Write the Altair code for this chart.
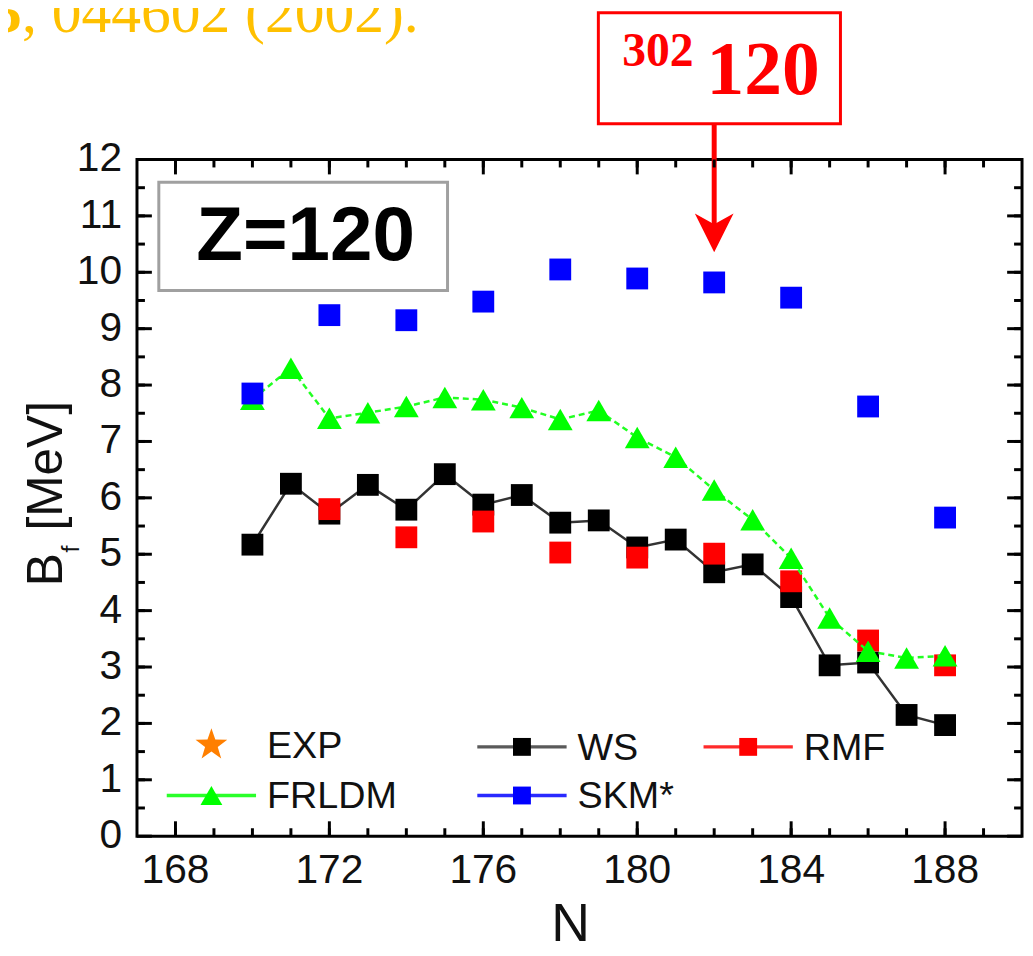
import math
import altair as alt
import pandas as pd

# ---------------- data ----------------
N_ws = [170, 171, 172, 173, 174, 175, 176, 177, 178, 179, 180, 181, 182, 183, 184, 185, 186, 187, 188]
B_ws = [5.17, 6.25, 5.72, 6.23, 5.79, 6.42, 5.88, 6.05, 5.56, 5.60, 5.12, 5.26, 4.68, 4.82, 4.24, 3.03, 3.08, 2.15, 1.97]

N_rmf = [172, 174, 176, 178, 180, 182, 184, 186, 188]
B_rmf = [5.80, 5.30, 5.58, 5.03, 4.94, 5.01, 4.52, 3.47, 3.03]

N_frldm = [170, 171, 172, 173, 174, 175, 176, 177, 178, 179, 180, 181, 182, 183, 184, 185, 186, 187, 188]
B_frldm = [7.75, 8.30, 7.41, 7.51, 7.62, 7.78, 7.74, 7.60, 7.39, 7.55, 7.07, 6.72, 6.14, 5.61, 4.93, 3.87, 3.28, 3.16, 3.20]

N_skm = [170, 172, 174, 176, 178, 180, 182, 184, 186, 188]
B_skm = [7.85, 9.24, 9.15, 9.48, 10.05, 9.89, 9.82, 9.55, 7.62, 5.65]

X_DOMAIN = [167, 190]
Y_DOMAIN = [0, 12]
X_MAJOR = [168, 172, 176, 180, 184, 188]
X_MINOR = list(range(168, 190))
Y_MAJOR = list(range(0, 13))
Y_MINOR = [i / 2 for i in range(1, 24)]

ARROW_N = 182

LEG_NAMES = ["EXP", "WS", "RMF", "FRLDM", "SKM*"]
LEG_MARKER_COLORS = ["#FF7F00", "#000000", "#FF0000", "#00FF00", "#0000FF"]
LEG_LINE_COLORS = ["#FFFFFF", "#5a5a5a", "#FF2a2a", "#2aFF2a", "#2a2aFF"]
LEG_HAS_LINE = [False, True, True, True, True]

# ---------------- layout / style ----------------
W, H = 892, 682
FONT = "Liberation Sans"
SERIF = "Liberation Serif"
MAJ, MIN, TW = 15, 8, 3  # tick lengths / width in pixels (inward ticks)

LEG_X = [75, 388, 616, 75, 388]
LEG_Y = [590, 592, 592, 641, 641]
LEG_SIZE = [1130, 324, 324, 484, 324]


def star_path(r_in=0.4):
    pts = []
    for i in range(10):
        r = 1.0 if i % 2 == 0 else r_in
        a = math.radians(-90 + 36 * i)
        pts.append(f"{r * math.cos(a):.3f},{r * math.sin(a):.3f}")
    return "M" + "L".join(pts) + "Z"


def vbar(length):
    w = TW / length  # half width in unit coords (unit half-length = length/2 px)
    return f"M{-w:.3f},-1L{w:.3f},-1L{w:.3f},1L{-w:.3f},1Z"


def hbar(length):
    w = TW / length
    return f"M-1,{-w:.3f}L1,{-w:.3f}L1,{w:.3f}L-1,{w:.3f}Z"


STAR = star_path()
ARROWHEAD = "M0,1L-1,-1L0,-0.45L1,-1Z"
LEG_SHAPES = [STAR, "square", "square", "triangle-up", "square"]

ws = pd.DataFrame({"N": N_ws, "B": B_ws})
rmf = pd.DataFrame({"N": N_rmf, "B": B_rmf})
frldm = pd.DataFrame({"N": N_frldm, "B": B_frldm})
skm = pd.DataFrame({"N": N_skm, "B": B_skm})
one = pd.DataFrame({"k": [0]})

leg = pd.DataFrame({
    "name": LEG_NAMES,
    "mc": LEG_MARKER_COLORS,
    "lc": LEG_LINE_COLORS,
    "shape": LEG_SHAPES,
    "msize": LEG_SIZE,
    "lx": LEG_X,
    "ly": LEG_Y,
})
leg["x1"] = leg["lx"] - 45
leg["x2"] = leg["lx"] + 45
leg["tx"] = leg["lx"] + 56
leg["ty"] = leg["ly"] + 2
leg_lines = leg[LEG_HAS_LINE]

xs = alt.Scale(domain=X_DOMAIN, nice=False, zero=False)
ys = alt.Scale(domain=Y_DOMAIN, nice=False, zero=False)


def X():
    return alt.X("N:Q", scale=xs, axis=None)


def Y():
    return alt.Y("B:Q", scale=ys, axis=None)


# ---------------- inward ticks on all four sides (bar-shaped point marks) ----------------
ticks = []
for vals, ln, top in [(X_MAJOR, MAJ, False), (X_MINOR, MIN, False),
                      (X_MAJOR, MAJ, True), (X_MINOR, MIN, True)]:
    ypos = ln / 2 if top else H - ln / 2
    ticks.append(
        alt.Chart(pd.DataFrame({"N": vals})).mark_point(
            shape=vbar(ln), size=ln * ln, filled=True, color="#000000", opacity=1,
            strokeWidth=0).encode(x=X(), y=alt.value(ypos)))
for vals, ln, right in [(Y_MAJOR, MAJ, False), (Y_MINOR, MIN, False),
                        (Y_MAJOR, MAJ, True), (Y_MINOR, MIN, True)]:
    xpos = W - ln / 2 if right else ln / 2
    ticks.append(
        alt.Chart(pd.DataFrame({"B": vals})).mark_point(
            shape=hbar(ln), size=ln * ln, filled=True, color="#000000", opacity=1,
            strokeWidth=0).encode(y=Y(), x=alt.value(xpos)))

# ---------------- tick labels and axis title ----------------
xlabels = alt.Chart(pd.DataFrame({"N": X_MAJOR})).mark_text(
    font=FONT, fontSize=41, color="#111111", align="center", baseline="top").encode(
    x=X(), y=alt.value(H + 15), text=alt.Text("N:Q", format="d"))
ylabels = alt.Chart(pd.DataFrame({"B": Y_MAJOR})).mark_text(
    font=FONT, fontSize=41, color="#111111", align="right", baseline="middle").encode(
    y=Y(), x=alt.value(-15), text=alt.Text("B:Q", format="d"))
xtitle = alt.Chart(one).mark_text(text="N", font=FONT, fontSize=54, color="#111111",
                                  align="center", baseline="alphabetic").encode(
    x=alt.value(437), y=alt.value(788))

# ---------------- series ----------------
ws_line = alt.Chart(ws).mark_line(color="#333333", strokeWidth=2.5).encode(x=X(), y=Y())
ws_pts = alt.Chart(ws).mark_point(shape="square", filled=True, color="#000000", size=484,
                                  opacity=1).encode(x=X(), y=Y())
rmf_pts = alt.Chart(rmf).mark_point(shape="square", filled=True, color="#FF0000", size=484,
                                    opacity=1).encode(x=X(), y=Y())
fr_line = alt.Chart(frldm).mark_line(color="#22FF22", strokeWidth=2.5, strokeDash=[6, 4]).encode(
    x=X(), y=Y())
fr_pts = alt.Chart(frldm).mark_point(shape="triangle-up", filled=True, color="#00FF00", size=625,
                                     opacity=1).encode(x=X(), y=Y())
skm_pts = alt.Chart(skm).mark_point(shape="square", filled=True, color="#0000FF", size=484,
                                    opacity=1).encode(x=X(), y=Y())

# ---------------- annotations ----------------
zbox = alt.Chart(one).mark_rect(fill="white", stroke="#A0A0A0", strokeWidth=3).encode(
    x=alt.value(22), x2=alt.value(313), y=alt.value(23), y2=alt.value(132))
ztext = alt.Chart(one).mark_text(text="Z=120", font=FONT, fontSize=77, fontWeight="bold",
                                 color="#000000", align="center", baseline="alphabetic").encode(
    x=alt.value(170), y=alt.value(101))

rbox = alt.Chart(one).mark_rect(fill="white", stroke="#FF0000", strokeWidth=3).encode(
    x=alt.value(465), x2=alt.value(709), y=alt.value(-148), y2=alt.value(-36))
t302 = alt.Chart(one).mark_text(text="302", font=SERIF, fontSize=48, fontWeight="bold",
                                color="#FF0000", align="left", baseline="alphabetic").encode(
    x=alt.value(489), y=alt.value(-94))
t120 = alt.Chart(one).mark_text(text="120", font=SERIF, fontSize=76, fontWeight="bold",
                                color="#FF0000", align="left", baseline="alphabetic").encode(
    x=alt.value(574), y=alt.value(-66))
arrow = alt.Chart(one).mark_rule(color="#FF0000", strokeWidth=5).encode(
    x=alt.XDatum(ARROW_N, scale=xs, axis=None), y=alt.value(-36), y2=alt.value(78))
arrowhead = alt.Chart(one).mark_point(shape=ARROWHEAD, filled=True, color="#FF0000", size=1521,
                                      opacity=1).encode(
    x=alt.XDatum(ARROW_N, scale=xs, axis=None), y=alt.value(74))

ref1 = alt.Chart(one).mark_text(text="5", font=SERIF, fontSize=60, fontWeight="bold",
                                color="#FFC000", align="left", baseline="alphabetic").encode(
    x=alt.value(-146), y=alt.value(-129))
ref2 = alt.Chart(one).mark_text(text=", 044602 (2002).", font=SERIF, fontSize=60,
                                color="#FFC000", align="left", baseline="alphabetic").encode(
    x=alt.value(-116), y=alt.value(-129))

yt_b = alt.Chart(one).mark_text(text="B", font=FONT, fontSize=50, color="#111111", angle=270,
                                align="left", baseline="alphabetic").encode(
    x=alt.value(-76), y=alt.value(430))
yt_f = alt.Chart(one).mark_text(text="f", font=FONT, fontSize=25, color="#111111", angle=270,
                                align="left", baseline="alphabetic").encode(
    x=alt.value(-58), y=alt.value(396))
yt_u = alt.Chart(one).mark_text(text="[MeV]", font=FONT, fontSize=50, color="#111111", angle=270,
                                align="left", baseline="alphabetic").encode(
    x=alt.value(-76), y=alt.value(374))

# ---------------- legend ----------------
leg_rule = alt.Chart(leg_lines).mark_rule(strokeWidth=3.5).encode(
    x=alt.X("x1:Q", scale=None, axis=None), x2="x2:Q",
    y=alt.Y("ly:Q", scale=None, axis=None),
    color=alt.Color("lc:N", scale=None))
leg_pts = alt.Chart(leg).mark_point(filled=True, opacity=1).encode(
    x=alt.X("lx:Q", scale=None, axis=None), y=alt.Y("ly:Q", scale=None, axis=None),
    shape=alt.Shape("shape:N", scale=None), color=alt.Color("mc:N", scale=None),
    size=alt.Size("msize:Q", scale=None))
leg_txt = alt.Chart(leg).mark_text(align="left", baseline="middle", font=FONT, fontSize=38,
                                   color="#111111").encode(
    x=alt.X("tx:Q", scale=None, axis=None), y=alt.Y("ty:Q", scale=None, axis=None),
    text="name:N")

chart = alt.layer(
    ws_line, ws_pts, rmf_pts, fr_line, fr_pts, skm_pts,
    zbox, ztext, rbox, t302, t120, arrow, arrowhead, ref1, ref2,
    yt_b, yt_f, yt_u, leg_rule, leg_pts, leg_txt,
    xlabels, ylabels, xtitle, *ticks,
).properties(
    width=W, height=H,
    autosize=alt.AutoSizeParams(type="none"),
    padding={"left": 130, "top": 149, "right": 3, "bottom": 109},
    background="white",
).configure_view(stroke="#000000", strokeWidth=3)

chart.save("out.html", embed_options={"renderer": "svg", "actions": False})
